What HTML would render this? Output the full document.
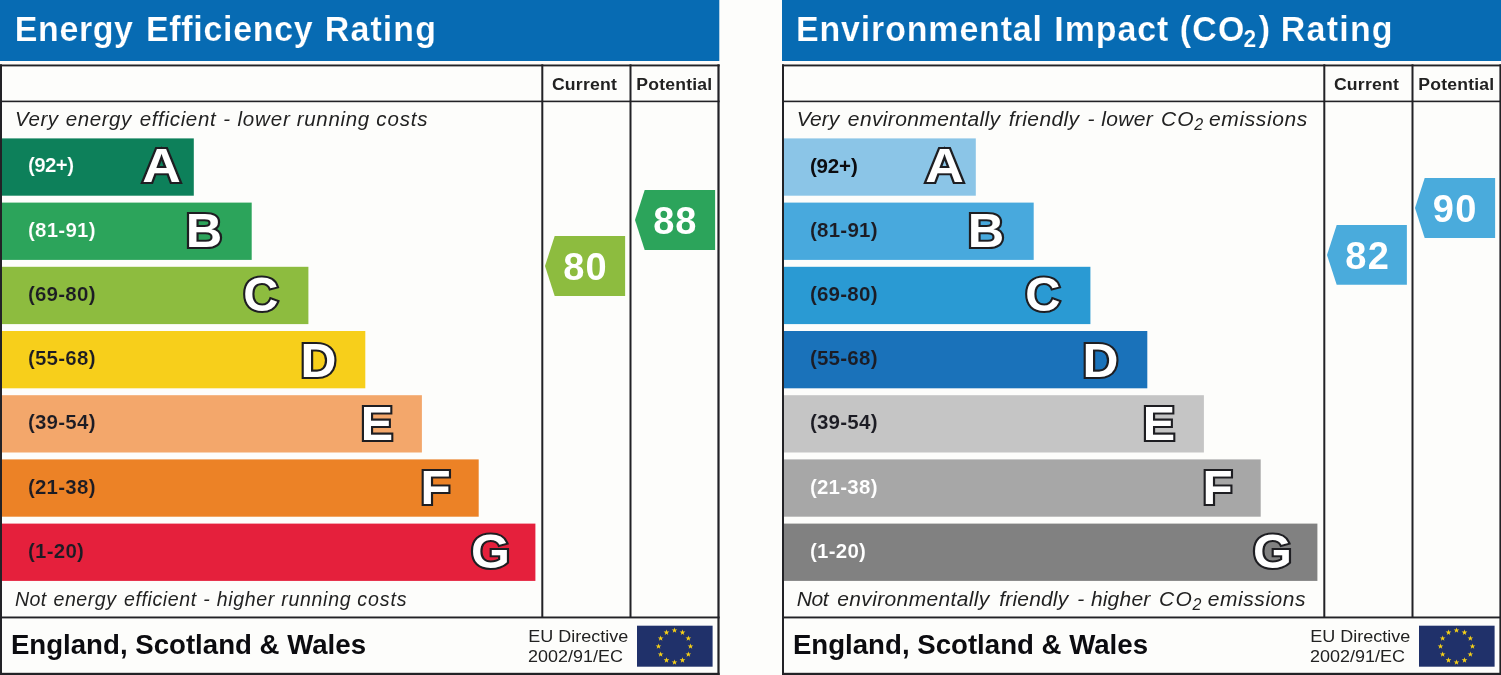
<!DOCTYPE html>
<html><head><meta charset="utf-8"><title>EPC</title>
<style>html,body{margin:0;padding:0;background:#fdfdfb;}svg{display:block;font-family:"Liberation Sans",sans-serif;}</style>
</head><body>
<svg width="1501" height="675" viewBox="0 0 1501 675">
<rect width="1501" height="675" fill="#fdfdfb"/>
<g transform="translate(0,0)">
<rect x="0" y="0" width="719.3" height="61" fill="#076bb3"/>
<text transform="translate(0,41.20) scale(0.97,1)" font-size="35.0" font-weight="bold" fill="#fff" stroke="#076bb3" stroke-width="0.2"><tspan x="15.29" letter-spacing="0.628" y="0.00">Energy </tspan><tspan x="150.41" letter-spacing="0.740" y="0.00">Efficiency </tspan><tspan x="334.84" letter-spacing="1.140" y="0.00">Rating</tspan></text>
<rect x="1" y="138.4" width="192.8" height="57.3" fill="#0d805a"/>
<text x="27.88" y="171.75" font-size="20.5" font-weight="bold" fill="#fff" letter-spacing="-0.558" stroke="#0d805a" stroke-width="0.18">(92+)</text>
<text transform="translate(142.26,181.85) scale(1.127,1)" font-size="47.4" font-weight="bold" fill="#fff" stroke="#1e1e22" stroke-width="4.2" stroke-linejoin="miter" paint-order="stroke">A</text>
<rect x="1" y="202.6" width="250.7" height="57.3" fill="#2ca45b"/>
<text x="27.88" y="236.75" font-size="20.5" font-weight="bold" fill="#fff" letter-spacing="0.273" stroke="#2ca45b" stroke-width="0.18">(81-91)</text>
<text transform="translate(185.72,246.75) scale(1.065,1)" font-size="47.4" font-weight="bold" fill="#fff" stroke="#1e1e22" stroke-width="4.2" stroke-linejoin="miter" paint-order="stroke">B</text>
<rect x="1" y="266.8" width="307.4" height="57.3" fill="#8dbc3f"/>
<text x="27.88" y="300.95" font-size="20.5" font-weight="bold" fill="#1c1c24" letter-spacing="0.256" stroke="#8dbc3f" stroke-width="0.18">(69-80)</text>
<text transform="translate(243.35,311.45) scale(1.027,1)" font-size="47.4" font-weight="bold" fill="#fff" stroke="#1e1e22" stroke-width="4.2" stroke-linejoin="miter" paint-order="stroke">C</text>
<rect x="1" y="331.0" width="364.3" height="57.3" fill="#f7cf1b"/>
<text x="27.88" y="365.15" font-size="20.5" font-weight="bold" fill="#1c1c24" letter-spacing="0.256" stroke="#f7cf1b" stroke-width="0.18">(55-68)</text>
<text transform="translate(300.57,376.65) scale(1.050,1)" font-size="47.4" font-weight="bold" fill="#fff" stroke="#1e1e22" stroke-width="4.2" stroke-linejoin="miter" paint-order="stroke">D</text>
<rect x="1" y="395.2" width="420.9" height="57.3" fill="#f3a76b"/>
<text x="27.88" y="429.35" font-size="20.5" font-weight="bold" fill="#1c1c24" letter-spacing="0.256" stroke="#f3a76b" stroke-width="0.18">(39-54)</text>
<text transform="translate(360.75,439.85) scale(1.023,1)" font-size="47.4" font-weight="bold" fill="#fff" stroke="#1e1e22" stroke-width="4.2" stroke-linejoin="miter" paint-order="stroke">E</text>
<rect x="1" y="459.4" width="477.7" height="57.3" fill="#ec8226"/>
<text x="27.88" y="493.55" font-size="20.5" font-weight="bold" fill="#1c1c24" letter-spacing="0.256" stroke="#ec8226" stroke-width="0.18">(21-38)</text>
<text transform="translate(420.49,503.75) scale(1.042,1)" font-size="47.4" font-weight="bold" fill="#fff" stroke="#1e1e22" stroke-width="4.2" stroke-linejoin="miter" paint-order="stroke">F</text>
<rect x="1" y="523.6" width="534.4" height="57.3" fill="#e5203c"/>
<text x="27.88" y="557.75" font-size="20.5" font-weight="bold" fill="#1c1c24" letter-spacing="0.263" stroke="#e5203c" stroke-width="0.18">(1-20)</text>
<text transform="translate(471.10,568.15) scale(1.056,1)" font-size="47.4" font-weight="bold" fill="#fff" stroke="#1e1e22" stroke-width="4.2" stroke-linejoin="miter" paint-order="stroke">G</text>
<text transform="translate(0,125.90) scale(1.0,1)" font-size="20.5" font-style="italic" fill="#222" ><tspan x="14.96" letter-spacing="0.569" y="0.00">Very </tspan><tspan x="65.68" letter-spacing="0.593" y="0.00">energy </tspan><tspan x="139.68" letter-spacing="0.672" y="0.00">efficient </tspan><tspan x="223.17" letter-spacing="0.000" y="0.00">- </tspan><tspan x="237.39" letter-spacing="0.874" y="0.00">lower </tspan><tspan x="296.79" letter-spacing="0.657" y="0.00">running </tspan><tspan x="376.28" letter-spacing="0.865" y="0.00">costs</tspan></text>
<text transform="translate(0,606.00) scale(1.0,1)" font-size="19.6" font-style="italic" fill="#222" ><tspan x="15.11" letter-spacing="0.312" y="0.00">Not </tspan><tspan x="53.51" letter-spacing="0.506" y="0.00">energy </tspan><tspan x="123.91" letter-spacing="0.597" y="0.00">efficient </tspan><tspan x="203.32" letter-spacing="0.000" y="0.00">- </tspan><tspan x="216.71" letter-spacing="0.624" y="0.00">higher </tspan><tspan x="281.21" letter-spacing="0.671" y="0.00">running </tspan><tspan x="357.31" letter-spacing="0.878" y="0.00">costs</tspan></text>
<g fill="#222226">
<rect x="0" y="64.5" width="719.6" height="1.9"/>
<rect x="0" y="100.6" width="719.6" height="1.6"/>
<rect x="0" y="616.5" width="719.6" height="1.9"/>
<rect x="0" y="672.8" width="719.6" height="2.2"/>
<rect x="0" y="64.3" width="2" height="611"/>
<rect x="717.4" y="64.3" width="2.2" height="611"/>
<rect x="541.3" y="64.3" width="2" height="553"/>
<rect x="629.5" y="64.3" width="2" height="553"/>
</g>
<text transform="translate(551.89,89.60) scale(1.0507,1)" font-size="16.8" font-weight="bold" fill="#222" letter-spacing="0.2">Current</text>
<text transform="translate(636.26,89.60) scale(1.0466,1)" font-size="16.8" font-weight="bold" fill="#222" letter-spacing="0.2">Potential</text>
<polygon points="545.0,266.0 554.7,236.1 625.1,236.1 625.1,295.9 554.7,295.9" fill="#8dbc3f"/><text x="563.26" y="279.60" font-size="38" font-weight="bold" fill="#fff" letter-spacing="1.180" >80</text>
<polygon points="635.0,220.0 644.7,190.1 715.1,190.1 715.1,249.9 644.7,249.9" fill="#2ca45b"/><text x="653.26" y="233.60" font-size="38" font-weight="bold" fill="#fff" letter-spacing="0.800" >88</text>
<text transform="translate(10.90,653.70) scale(1.0164,1)" font-size="27.2" font-weight="bold" fill="#0c0c10" letter-spacing="0">England, Scotland &amp; Wales</text>
<text transform="translate(528.16,641.80) scale(1.1129,1)" font-size="16.2"  fill="#222" letter-spacing="0">EU Directive</text>
<text transform="translate(528.10,662.40) scale(1.1097,1)" font-size="16.2"  fill="#222" letter-spacing="0">2002/91/EC</text>
<rect x="637" y="625.7" width="75.6" height="41" fill="#20316a"/>
<polygon points="674.50,627.40 675.21,629.43 677.35,629.47 675.64,630.77 676.26,632.83 674.50,631.60 672.74,632.83 673.36,630.77 671.65,629.47 673.79,629.43" fill="#f7d117"/>
<polygon points="682.50,629.54 683.21,631.57 685.35,631.62 683.64,632.91 684.26,634.97 682.50,633.74 680.74,634.97 681.36,632.91 679.65,631.62 681.79,631.57" fill="#f7d117"/>
<polygon points="688.36,635.40 689.06,637.43 691.21,637.47 689.50,638.77 690.12,640.83 688.36,639.60 686.59,640.83 687.22,638.77 685.50,637.47 687.65,637.43" fill="#f7d117"/>
<polygon points="690.50,643.40 691.21,645.43 693.35,645.47 691.64,646.77 692.26,648.83 690.50,647.60 688.74,648.83 689.36,646.77 687.65,645.47 689.79,645.43" fill="#f7d117"/>
<polygon points="688.36,651.40 689.06,653.43 691.21,653.47 689.50,654.77 690.12,656.83 688.36,655.60 686.59,656.83 687.22,654.77 685.50,653.47 687.65,653.43" fill="#f7d117"/>
<polygon points="682.50,657.26 683.21,659.29 685.35,659.33 683.64,660.63 684.26,662.68 682.50,661.46 680.74,662.68 681.36,660.63 679.65,659.33 681.79,659.29" fill="#f7d117"/>
<polygon points="674.50,659.40 675.21,661.43 677.35,661.47 675.64,662.77 676.26,664.83 674.50,663.60 672.74,664.83 673.36,662.77 671.65,661.47 673.79,661.43" fill="#f7d117"/>
<polygon points="666.50,657.26 667.21,659.29 669.35,659.33 667.64,660.63 668.26,662.68 666.50,661.46 664.74,662.68 665.36,660.63 663.65,659.33 665.79,659.29" fill="#f7d117"/>
<polygon points="660.64,651.40 661.35,653.43 663.50,653.47 661.78,654.77 662.41,656.83 660.64,655.60 658.88,656.83 659.50,654.77 657.79,653.47 659.94,653.43" fill="#f7d117"/>
<polygon points="658.50,643.40 659.21,645.43 661.35,645.47 659.64,646.77 660.26,648.83 658.50,647.60 656.74,648.83 657.36,646.77 655.65,645.47 657.79,645.43" fill="#f7d117"/>
<polygon points="660.64,635.40 661.35,637.43 663.50,637.47 661.78,638.77 662.41,640.83 660.64,639.60 658.88,640.83 659.50,638.77 657.79,637.47 659.94,637.43" fill="#f7d117"/>
<polygon points="666.50,629.54 667.21,631.57 669.35,631.62 667.64,632.91 668.26,634.97 666.50,633.74 664.74,634.97 665.36,632.91 663.65,631.62 665.79,631.57" fill="#f7d117"/>
</g>
<g transform="translate(782,0)">
<rect x="0" y="0" width="719.3" height="61" fill="#076bb3"/>
<text transform="translate(0,41.20) scale(0.97,1)" font-size="35.0" font-weight="bold" fill="#fff" stroke="#076bb3" stroke-width="0.2"><tspan x="14.43" letter-spacing="0.885" y="0.00">Environmental </tspan><tspan x="280.71" letter-spacing="0.954" y="0.00">Impact </tspan><tspan x="410.11" letter-spacing="1.199" y="0.00">(CO</tspan><tspan x="475.78" letter-spacing="0.000" font-size="23.5" y="5.50">2</tspan><tspan x="491.58" letter-spacing="0.000" y="0.00">) </tspan><tspan x="514.22" letter-spacing="1.284" y="0.00">Rating</tspan></text>
<rect x="1" y="138.4" width="192.8" height="57.3" fill="#8bc5e7"/>
<text x="27.88" y="172.85" font-size="20.5" font-weight="bold" fill="#0c0c10" letter-spacing="-0.133" stroke="#8bc5e7" stroke-width="0">(92+)</text>
<text transform="translate(143.16,181.85) scale(1.127,1)" font-size="47.4" font-weight="bold" fill="#fff" stroke="#1e1e22" stroke-width="4.2" stroke-linejoin="miter" paint-order="stroke">A</text>
<rect x="1" y="202.6" width="250.7" height="57.3" fill="#48a9dd"/>
<text x="27.88" y="236.75" font-size="20.5" font-weight="bold" fill="#1c1c24" letter-spacing="0.273" stroke="#48a9dd" stroke-width="0.1">(81-91)</text>
<text transform="translate(185.72,246.75) scale(1.065,1)" font-size="47.4" font-weight="bold" fill="#fff" stroke="#1e1e22" stroke-width="4.2" stroke-linejoin="miter" paint-order="stroke">B</text>
<rect x="1" y="266.8" width="307.4" height="57.3" fill="#2a9ad3"/>
<text x="27.88" y="300.95" font-size="20.5" font-weight="bold" fill="#1c1c24" letter-spacing="0.256" stroke="#2a9ad3" stroke-width="0.1">(69-80)</text>
<text transform="translate(243.35,311.45) scale(1.027,1)" font-size="47.4" font-weight="bold" fill="#fff" stroke="#1e1e22" stroke-width="4.2" stroke-linejoin="miter" paint-order="stroke">C</text>
<rect x="1" y="331.0" width="364.3" height="57.3" fill="#1a72ba"/>
<text x="27.88" y="365.15" font-size="20.5" font-weight="bold" fill="#1c1c24" letter-spacing="0.256" stroke="#1a72ba" stroke-width="0.1">(55-68)</text>
<text transform="translate(300.57,376.65) scale(1.050,1)" font-size="47.4" font-weight="bold" fill="#fff" stroke="#1e1e22" stroke-width="4.2" stroke-linejoin="miter" paint-order="stroke">D</text>
<rect x="1" y="395.2" width="420.9" height="57.3" fill="#c5c5c5"/>
<text x="27.88" y="429.35" font-size="20.5" font-weight="bold" fill="#1c1c24" letter-spacing="0.256" stroke="#c5c5c5" stroke-width="0.1">(39-54)</text>
<text transform="translate(360.75,439.85) scale(1.023,1)" font-size="47.4" font-weight="bold" fill="#fff" stroke="#1e1e22" stroke-width="4.2" stroke-linejoin="miter" paint-order="stroke">E</text>
<rect x="1" y="459.4" width="477.7" height="57.3" fill="#a7a7a7"/>
<text x="27.88" y="493.55" font-size="20.5" font-weight="bold" fill="#fff" letter-spacing="0.256" stroke="#a7a7a7" stroke-width="0.1">(21-38)</text>
<text transform="translate(420.49,503.75) scale(1.042,1)" font-size="47.4" font-weight="bold" fill="#fff" stroke="#1e1e22" stroke-width="4.2" stroke-linejoin="miter" paint-order="stroke">F</text>
<rect x="1" y="523.6" width="534.4" height="57.3" fill="#818181"/>
<text x="27.88" y="557.75" font-size="20.5" font-weight="bold" fill="#fff" letter-spacing="0.263" stroke="#818181" stroke-width="0.1">(1-20)</text>
<text transform="translate(471.10,568.15) scale(1.056,1)" font-size="47.4" font-weight="bold" fill="#fff" stroke="#1e1e22" stroke-width="4.2" stroke-linejoin="miter" paint-order="stroke">G</text>
<text transform="translate(0,126.30) scale(1.0,1)" font-size="21.0" font-style="italic" fill="#222" ><tspan x="14.71" letter-spacing="0.038" y="0.00">Very </tspan><tspan x="65.87" letter-spacing="0.363" y="0.00">environmentally </tspan><tspan x="226.87" letter-spacing="0.337" y="0.00">friendly </tspan><tspan x="305.45" letter-spacing="0.000" y="0.00">- </tspan><tspan x="319.28" letter-spacing="0.349" y="0.00">lower </tspan><tspan x="379.05" letter-spacing="1.085" y="0.00">CO</tspan><tspan x="412.28" letter-spacing="0.000" font-size="16" y="3.80">2 </tspan><tspan x="427.06" letter-spacing="0.601" y="0.00">emissions</tspan></text>
<text transform="translate(0,606.00) scale(1.0,1)" font-size="21.0" font-style="italic" fill="#222" ><tspan x="14.87" letter-spacing="-0.430" y="0.00">Not </tspan><tspan x="55.27" letter-spacing="0.356" y="0.00">environmentally </tspan><tspan x="217.26" letter-spacing="0.180" y="0.00">friendly </tspan><tspan x="295.25" letter-spacing="0.000" y="0.00">- </tspan><tspan x="308.89" letter-spacing="0.201" y="0.00">higher </tspan><tspan x="376.94" letter-spacing="1.485" y="0.00">CO</tspan><tspan x="410.58" letter-spacing="0.000" font-size="16" y="3.80">2 </tspan><tspan x="425.86" letter-spacing="0.539" y="0.00">emissions</tspan></text>
<g fill="#222226">
<rect x="0" y="64.5" width="719.6" height="1.9"/>
<rect x="0" y="100.6" width="719.6" height="1.6"/>
<rect x="0" y="616.5" width="719.6" height="1.9"/>
<rect x="0" y="672.8" width="719.6" height="2.2"/>
<rect x="0" y="64.3" width="2" height="611"/>
<rect x="717.4" y="64.3" width="2.2" height="611"/>
<rect x="541.3" y="64.3" width="2" height="553"/>
<rect x="629.5" y="64.3" width="2" height="553"/>
</g>
<text transform="translate(551.89,89.60) scale(1.0507,1)" font-size="16.8" font-weight="bold" fill="#222" letter-spacing="0.2">Current</text>
<text transform="translate(636.26,89.60) scale(1.0466,1)" font-size="16.8" font-weight="bold" fill="#222" letter-spacing="0.2">Potential</text>
<polygon points="545.0,254.9 554.7,225.0 624.9,225.0 624.9,284.8 554.7,284.8" fill="#4aabdc"/><text x="563.36" y="268.70" font-size="38" font-weight="bold" fill="#fff" letter-spacing="1.180" >82</text>
<polygon points="633.0,208.0 642.7,178.1 713.1,178.1 713.1,237.9 642.7,237.9" fill="#4aabdc"/><text x="650.67" y="221.70" font-size="38" font-weight="bold" fill="#fff" letter-spacing="1.570" >90</text>
<text transform="translate(10.90,653.70) scale(1.0164,1)" font-size="27.2" font-weight="bold" fill="#0c0c10" letter-spacing="0">England, Scotland &amp; Wales</text>
<text transform="translate(528.16,641.80) scale(1.1129,1)" font-size="16.2"  fill="#222" letter-spacing="0">EU Directive</text>
<text transform="translate(528.10,662.40) scale(1.1097,1)" font-size="16.2"  fill="#222" letter-spacing="0">2002/91/EC</text>
<rect x="637" y="625.7" width="75.6" height="41" fill="#20316a"/>
<polygon points="674.50,627.40 675.21,629.43 677.35,629.47 675.64,630.77 676.26,632.83 674.50,631.60 672.74,632.83 673.36,630.77 671.65,629.47 673.79,629.43" fill="#f7d117"/>
<polygon points="682.50,629.54 683.21,631.57 685.35,631.62 683.64,632.91 684.26,634.97 682.50,633.74 680.74,634.97 681.36,632.91 679.65,631.62 681.79,631.57" fill="#f7d117"/>
<polygon points="688.36,635.40 689.06,637.43 691.21,637.47 689.50,638.77 690.12,640.83 688.36,639.60 686.59,640.83 687.22,638.77 685.50,637.47 687.65,637.43" fill="#f7d117"/>
<polygon points="690.50,643.40 691.21,645.43 693.35,645.47 691.64,646.77 692.26,648.83 690.50,647.60 688.74,648.83 689.36,646.77 687.65,645.47 689.79,645.43" fill="#f7d117"/>
<polygon points="688.36,651.40 689.06,653.43 691.21,653.47 689.50,654.77 690.12,656.83 688.36,655.60 686.59,656.83 687.22,654.77 685.50,653.47 687.65,653.43" fill="#f7d117"/>
<polygon points="682.50,657.26 683.21,659.29 685.35,659.33 683.64,660.63 684.26,662.68 682.50,661.46 680.74,662.68 681.36,660.63 679.65,659.33 681.79,659.29" fill="#f7d117"/>
<polygon points="674.50,659.40 675.21,661.43 677.35,661.47 675.64,662.77 676.26,664.83 674.50,663.60 672.74,664.83 673.36,662.77 671.65,661.47 673.79,661.43" fill="#f7d117"/>
<polygon points="666.50,657.26 667.21,659.29 669.35,659.33 667.64,660.63 668.26,662.68 666.50,661.46 664.74,662.68 665.36,660.63 663.65,659.33 665.79,659.29" fill="#f7d117"/>
<polygon points="660.64,651.40 661.35,653.43 663.50,653.47 661.78,654.77 662.41,656.83 660.64,655.60 658.88,656.83 659.50,654.77 657.79,653.47 659.94,653.43" fill="#f7d117"/>
<polygon points="658.50,643.40 659.21,645.43 661.35,645.47 659.64,646.77 660.26,648.83 658.50,647.60 656.74,648.83 657.36,646.77 655.65,645.47 657.79,645.43" fill="#f7d117"/>
<polygon points="660.64,635.40 661.35,637.43 663.50,637.47 661.78,638.77 662.41,640.83 660.64,639.60 658.88,640.83 659.50,638.77 657.79,637.47 659.94,637.43" fill="#f7d117"/>
<polygon points="666.50,629.54 667.21,631.57 669.35,631.62 667.64,632.91 668.26,634.97 666.50,633.74 664.74,634.97 665.36,632.91 663.65,631.62 665.79,631.57" fill="#f7d117"/>
</g>
</svg>
</body></html>
